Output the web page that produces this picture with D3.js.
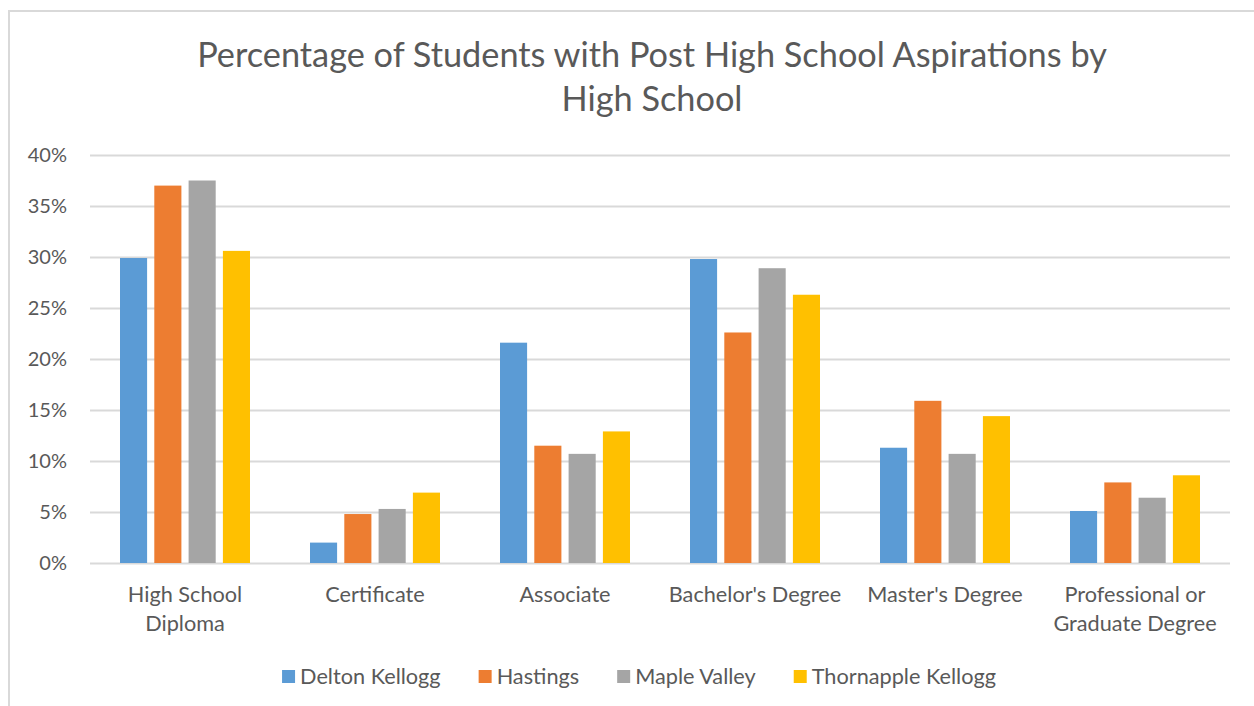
<!DOCTYPE html>
<html>
<head>
<meta charset="utf-8">
<script src="https://cdn.jsdelivr.net/npm/d3@7"></script>
<style>
  body { margin: 0; background: #fff; }
  text { font-family: Lato, "Open Sans", sans-serif; fill: #595959; }
</style>
</head>
<body>
<div id="chart"></div>
<script>
var width = 1254,
    height = 706;

// data
var categories = [["High School", "Diploma"], ["Certificate"], ["Associate"],
  ["Bachelor's Degree"], ["Master's Degree"], ["Professional or", "Graduate Degree"]];
var seriesNames = ["Delton Kellogg", "Hastings", "Maple Valley", "Thornapple Kellogg"];
var deltonKellogg = [0.299, 0.020, 0.216, 0.298, 0.113, 0.051];
var hastings = [0.370, 0.048, 0.115, 0.226, 0.159, 0.079];
var mapleValley = [0.375, 0.053, 0.107, 0.289, 0.107, 0.064];
var thornappleKellogg = [0.306, 0.069, 0.129, 0.263, 0.144, 0.086];
var yTicks = [0, 0.05, 0.10, 0.15, 0.20, 0.25, 0.30, 0.35, 0.40];

var allSeries = [deltonKellogg, hastings, mapleValley, thornappleKellogg];
var colors = ["#5B9BD5", "#ED7D31", "#A5A5A5", "#FFC000"];

var svg = d3.select("#chart").append("svg")
    .attr("width", width)
    .attr("height", height);

svg.append("rect")
    .attr("width", width).attr("height", height)
    .attr("fill", "#fff");

// chart area border (runs off the right and bottom)
svg.append("rect")
    .attr("x", 9).attr("y", 11)
    .attr("width", width + 20).attr("height", height + 20)
    .attr("fill", "none")
    .attr("stroke", "#D9D9D9")
    .attr("stroke-width", 2);

var catIdx = categories.map(function (d, i) { return i; });

var x0 = d3.scaleBand()
    .domain(catIdx)
    .range([90, 1230]);

var x1 = d3.scaleBand()
    .domain(d3.range(seriesNames.length))
    .range([30, x0.bandwidth() - 30])
    .paddingInner(0.21);

var y = d3.scaleLinear()
    .domain([0, 0.4])
    .range([563, 155]);

// gridlines
svg.append("g").selectAll("line")
    .data(yTicks)
  .enter().append("line")
    .attr("x1", 90).attr("x2", 1230)
    .attr("y1", function (d) { return Math.round(y(d)) + 0.5; })
    .attr("y2", function (d) { return Math.round(y(d)) + 0.5; })
    .attr("stroke", "#D9D9D9")
    .attr("stroke-width", 2);

// y axis labels
var yAxis = d3.axisLeft(y)
    .tickValues(yTicks)
    .tickFormat(d3.format(".0%"))
    .tickSize(0)
    .tickPadding(0);

var yg = svg.append("g")
    .attr("transform", "translate(67,0)")
    .call(yAxis);
yg.select(".domain").remove();
yg.selectAll("text")
    .style("font-size", "20px")
    .attr("fill", "#595959");

// bars
var groups = svg.append("g").selectAll("g")
    .data(catIdx)
  .enter().append("g")
    .attr("transform", function (d) { return "translate(" + x0(d) + ",0)"; });

groups.selectAll("rect")
    .data(function (c) {
      return allSeries.map(function (s, k) { return { k: k, v: s[c] }; });
    })
  .enter().append("rect")
    .attr("x", function (d) { return x1(d.k); })
    .attr("width", x1.bandwidth())
    .attr("y", function (d) { return y(d.v); })
    .attr("height", function (d) { return y(0) - y(d.v); })
    .attr("fill", function (d) { return colors[d.k]; });

// category labels
var xl = svg.append("g").selectAll("text")
    .data(catIdx)
  .enter().append("text")
    .attr("x", function (d) { return x0(d) + x0.bandwidth() / 2; })
    .attr("y", 602)
    .attr("text-anchor", "middle")
    .style("font-size", "21.7px");

xl.selectAll("tspan")
    .data(function (d) { return categories[d]; })
  .enter().append("tspan")
    .attr("x", function () { return d3.select(this.parentNode).attr("x"); })
    .attr("dy", function (d, i) { return i === 0 ? 0 : 29; })
    .text(function (d) { return d; });

// title
var title = svg.append("text")
    .attr("x", 652)
    .attr("y", 67)
    .attr("text-anchor", "middle")
    .style("font-size", "34.3px");
title.append("tspan").attr("x", 652).text("Percentage of Students with Post High School Aspirations by");
title.append("tspan").attr("x", 652).attr("dy", 44).text("High School");

// legend, laid out from the text widths and centred
var legend = svg.append("g");
var items = legend.selectAll("g")
    .data(seriesNames)
  .enter().append("g");

items.append("rect")
    .attr("y", 670)
    .attr("width", 13).attr("height", 13)
    .attr("fill", function (d, i) { return colors[i]; });

items.append("text")
    .attr("x", 18)
    .attr("y", 684)
    .style("font-size", "21.7px")
    .text(function (d) { return d; });

var gap = 38;
var pos = 0, offsets = [];
items.each(function () {
  offsets.push(pos);
  pos += 18 + d3.select(this).select("text").node().getComputedTextLength() + gap;
});
var total = pos - gap;
var start = 639 - total / 2;
items.attr("transform", function (d, i) { return "translate(" + (start + offsets[i]) + ",0)"; });
</script>
</body>
</html>
